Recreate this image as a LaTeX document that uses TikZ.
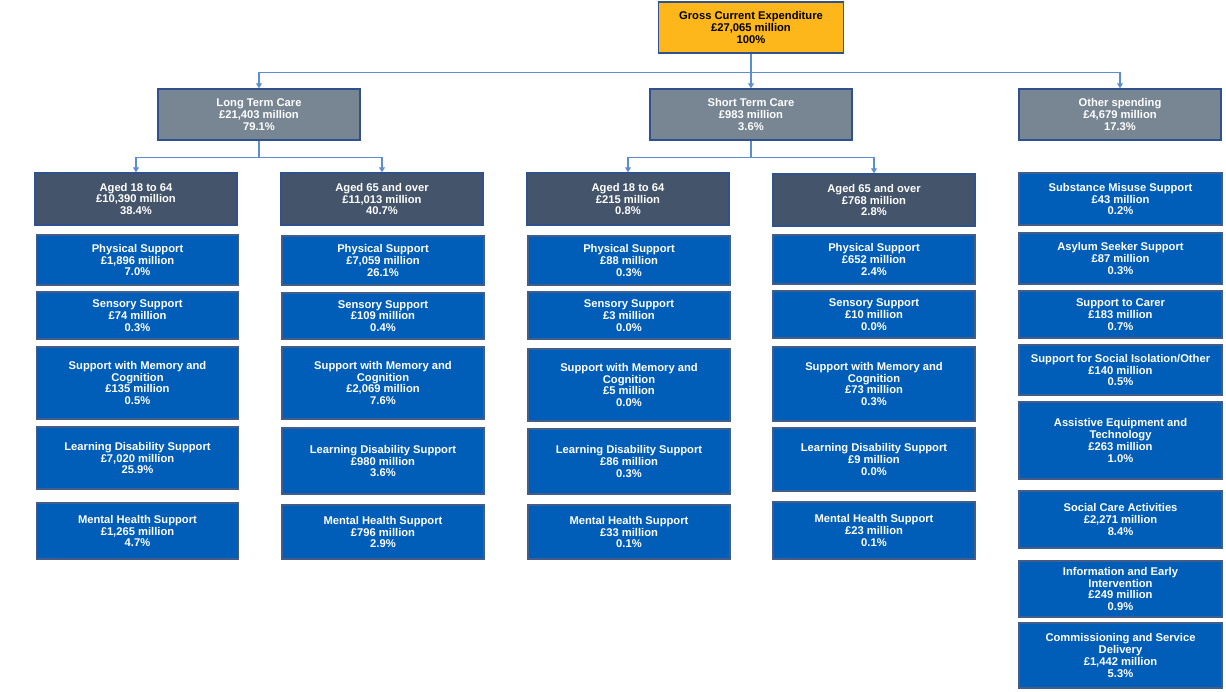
\documentclass[tikz,border=0pt]{standalone}
\usepackage{fontspec}
\setmainfont{Liberation Sans}
\usetikzlibrary{arrows.meta}
\definecolor{gceOrange}{HTML}{FDB71A}
\definecolor{careGrey}{HTML}{788592}
\definecolor{ageSlate}{HTML}{44546A}
\definecolor{leafBlue}{HTML}{005EB8}
\definecolor{edgeBlue}{HTML}{2F528F}
\definecolor{linkBlue}{HTML}{5B8DD0}
\begin{document}
\begin{tikzpicture}
[x=1pt,y=-1pt,
  boxDecorate/.style={shape=rectangle,draw=edgeBlue,line width=1.5pt,inner sep=0pt,align=center,%
    font=\fontsize{11.2}{11.8}\selectfont\bfseries,text=white,minimum width=202pt},%
  topDecorate/.style={boxDecorate,fill=gceOrange,text=black,minimum width=185pt},%
  careDecorate/.style={boxDecorate,fill=careGrey,minimum height=51pt},%
  ageDecorate/.style={boxDecorate,fill=ageSlate,minimum height=52pt},%
  leafDecorate/.style={boxDecorate,fill=leafBlue,draw=edgeBlue!75!gray,line width=1.2pt},%
  lineDecorate/.style={-{Triangle[length=5pt,width=6pt]},draw=linkBlue,line width=1.3pt}]
\useasboundingbox (0,0) rectangle (1226,691);
%% top and care nodes
\node (gce) at (751,27.5) [topDecorate,minimum height=51pt] {Gross Current Expenditure\\£27,065 million\\100\%};
\foreach \nodename/\x/\txt in {
  ltc/259/{Long Term Care\\£21,403 million\\79.1\%},
  stc/751/{Short Term Care\\£983 million\\3.6\%},
  oth/1120/{Other spending\\£4,679 million\\17.3\%}}
{
  \node (\nodename) at (\x,114.5) [careDecorate] {\txt};
}
%% age groups
\foreach \nodename/\x/\y/\txt in {
  ltcA/136/199/{Aged 18 to 64\\£10,390 million\\38.4\%},
  ltcB/382/199/{Aged 65 and over\\£11,013 million\\40.7\%},
  stcA/628/199/{Aged 18 to 64\\£215 million\\0.8\%},
  stcB/874/200/{Aged 65 and over\\£768 million\\2.8\%}}
{
  \node (\nodename) at (\x,\y) [ageDecorate] {\txt};
}
%% support nodes, long term care
\foreach \nodename/\y/\h/\txt in {
  ltcAp/260/50/{Physical Support\\£1,896 million\\7.0\%},
  ltcAs/315.5/47/{Sensory Support\\£74 million\\0.3\%},
  ltcAm/383/72/{Support with Memory and\\Cognition\\£135 million\\0.5\%},
  ltcAl/458/62/{Learning Disability Support\\£7,020 million\\25.9\%},
  ltcAh/531/56/{Mental Health Support\\£1,265 million\\4.7\%}}
{
  \node (\nodename) at (137.5,\y) [leafDecorate,minimum height=\h pt] {\txt};
}
\foreach \nodename/\y/\h/\txt in {
  ltcBp/260.5/49/{Physical Support\\£7,059 million\\26.1\%},
  ltcBs/316/46/{Sensory Support\\£109 million\\0.4\%},
  ltcBm/383/72/{Support with Memory and\\Cognition\\£2,069 million\\7.6\%},
  ltcBl/461/66/{Learning Disability Support\\£980 million\\3.6\%},
  ltcBh/532/54/{Mental Health Support\\£796 million\\2.9\%}}
{
  \node (\nodename) at (383,\y) [leafDecorate,minimum height=\h pt] {\txt};
}
%% support nodes, short term care
\foreach \nodename/\y/\h/\txt in {
  stcAp/260.5/49/{Physical Support\\£88 million\\0.3\%},
  stcAs/315.5/47/{Sensory Support\\£3 million\\0.0\%},
  stcAm/385/72/{Support with Memory and\\Cognition\\£5 million\\0.0\%},
  stcAl/461.5/65/{Learning Disability Support\\£86 million\\0.3\%},
  stcAh/532/54/{Mental Health Support\\£33 million\\0.1\%}}
{
  \node (\nodename) at (629,\y) [leafDecorate,minimum height=\h pt] {\txt};
}
\foreach \nodename/\y/\h/\txt in {
  stcBp/259.5/49/{Physical Support\\£652 million\\2.4\%},
  stcBs/314.5/47/{Sensory Support\\£10 million\\0.0\%},
  stcBm/384/74/{Support with Memory and\\Cognition\\£73 million\\0.3\%},
  stcBl/459.5/63/{Learning Disability Support\\£9 million\\0.0\%},
  stcBh/530.5/57/{Mental Health Support\\£23 million\\0.1\%}}
{
  \node (\nodename) at (874,\y) [leafDecorate,minimum height=\h pt] {\txt};
}
%% other spending
\foreach \nodename/\y/\h/\txt in {
  othS/199/52/{Substance Misuse Support\\£43 million\\0.2\%},
  othA/258.5/51/{Asylum Seeker Support\\£87 million\\0.3\%},
  othC/314.5/47/{Support to Carer\\£183 million\\0.7\%},
  othI/370/50/{Support for Social Isolation/Other\\£140 million\\0.5\%},
  othE/440.5/77/{Assistive Equipment and\\Technology\\£263 million\\1.0\%},
  othK/519.5/57/{Social Care Activities\\£2,271 million\\8.4\%},
  othF/589/56/{Information and Early\\Intervention\\£249 million\\0.9\%},
  othD/655.5/65/{Commissioning and Service\\Delivery\\£1,442 million\\5.3\%}}
{
  \node (\nodename) at (1120.5,\y) [leafDecorate,minimum width=203pt,minimum height=\h pt] {\txt};
}
%% edges or lines
\draw[lineDecorate] (gce.south) -- (stc.north);
\draw[lineDecorate] (gce.south) -- ++(0,19) -| (ltc.north);
\draw[lineDecorate] (gce.south) -- ++(0,19) -| (oth.north);
\foreach \startnode/\endnode in {ltc/ltcA, ltc/ltcB, stc/stcA, stc/stcB}
{
  \draw[lineDecorate] (\startnode.south) -- ++(0,17) -| (\endnode.north);
}
\end{tikzpicture}
\end{document}
